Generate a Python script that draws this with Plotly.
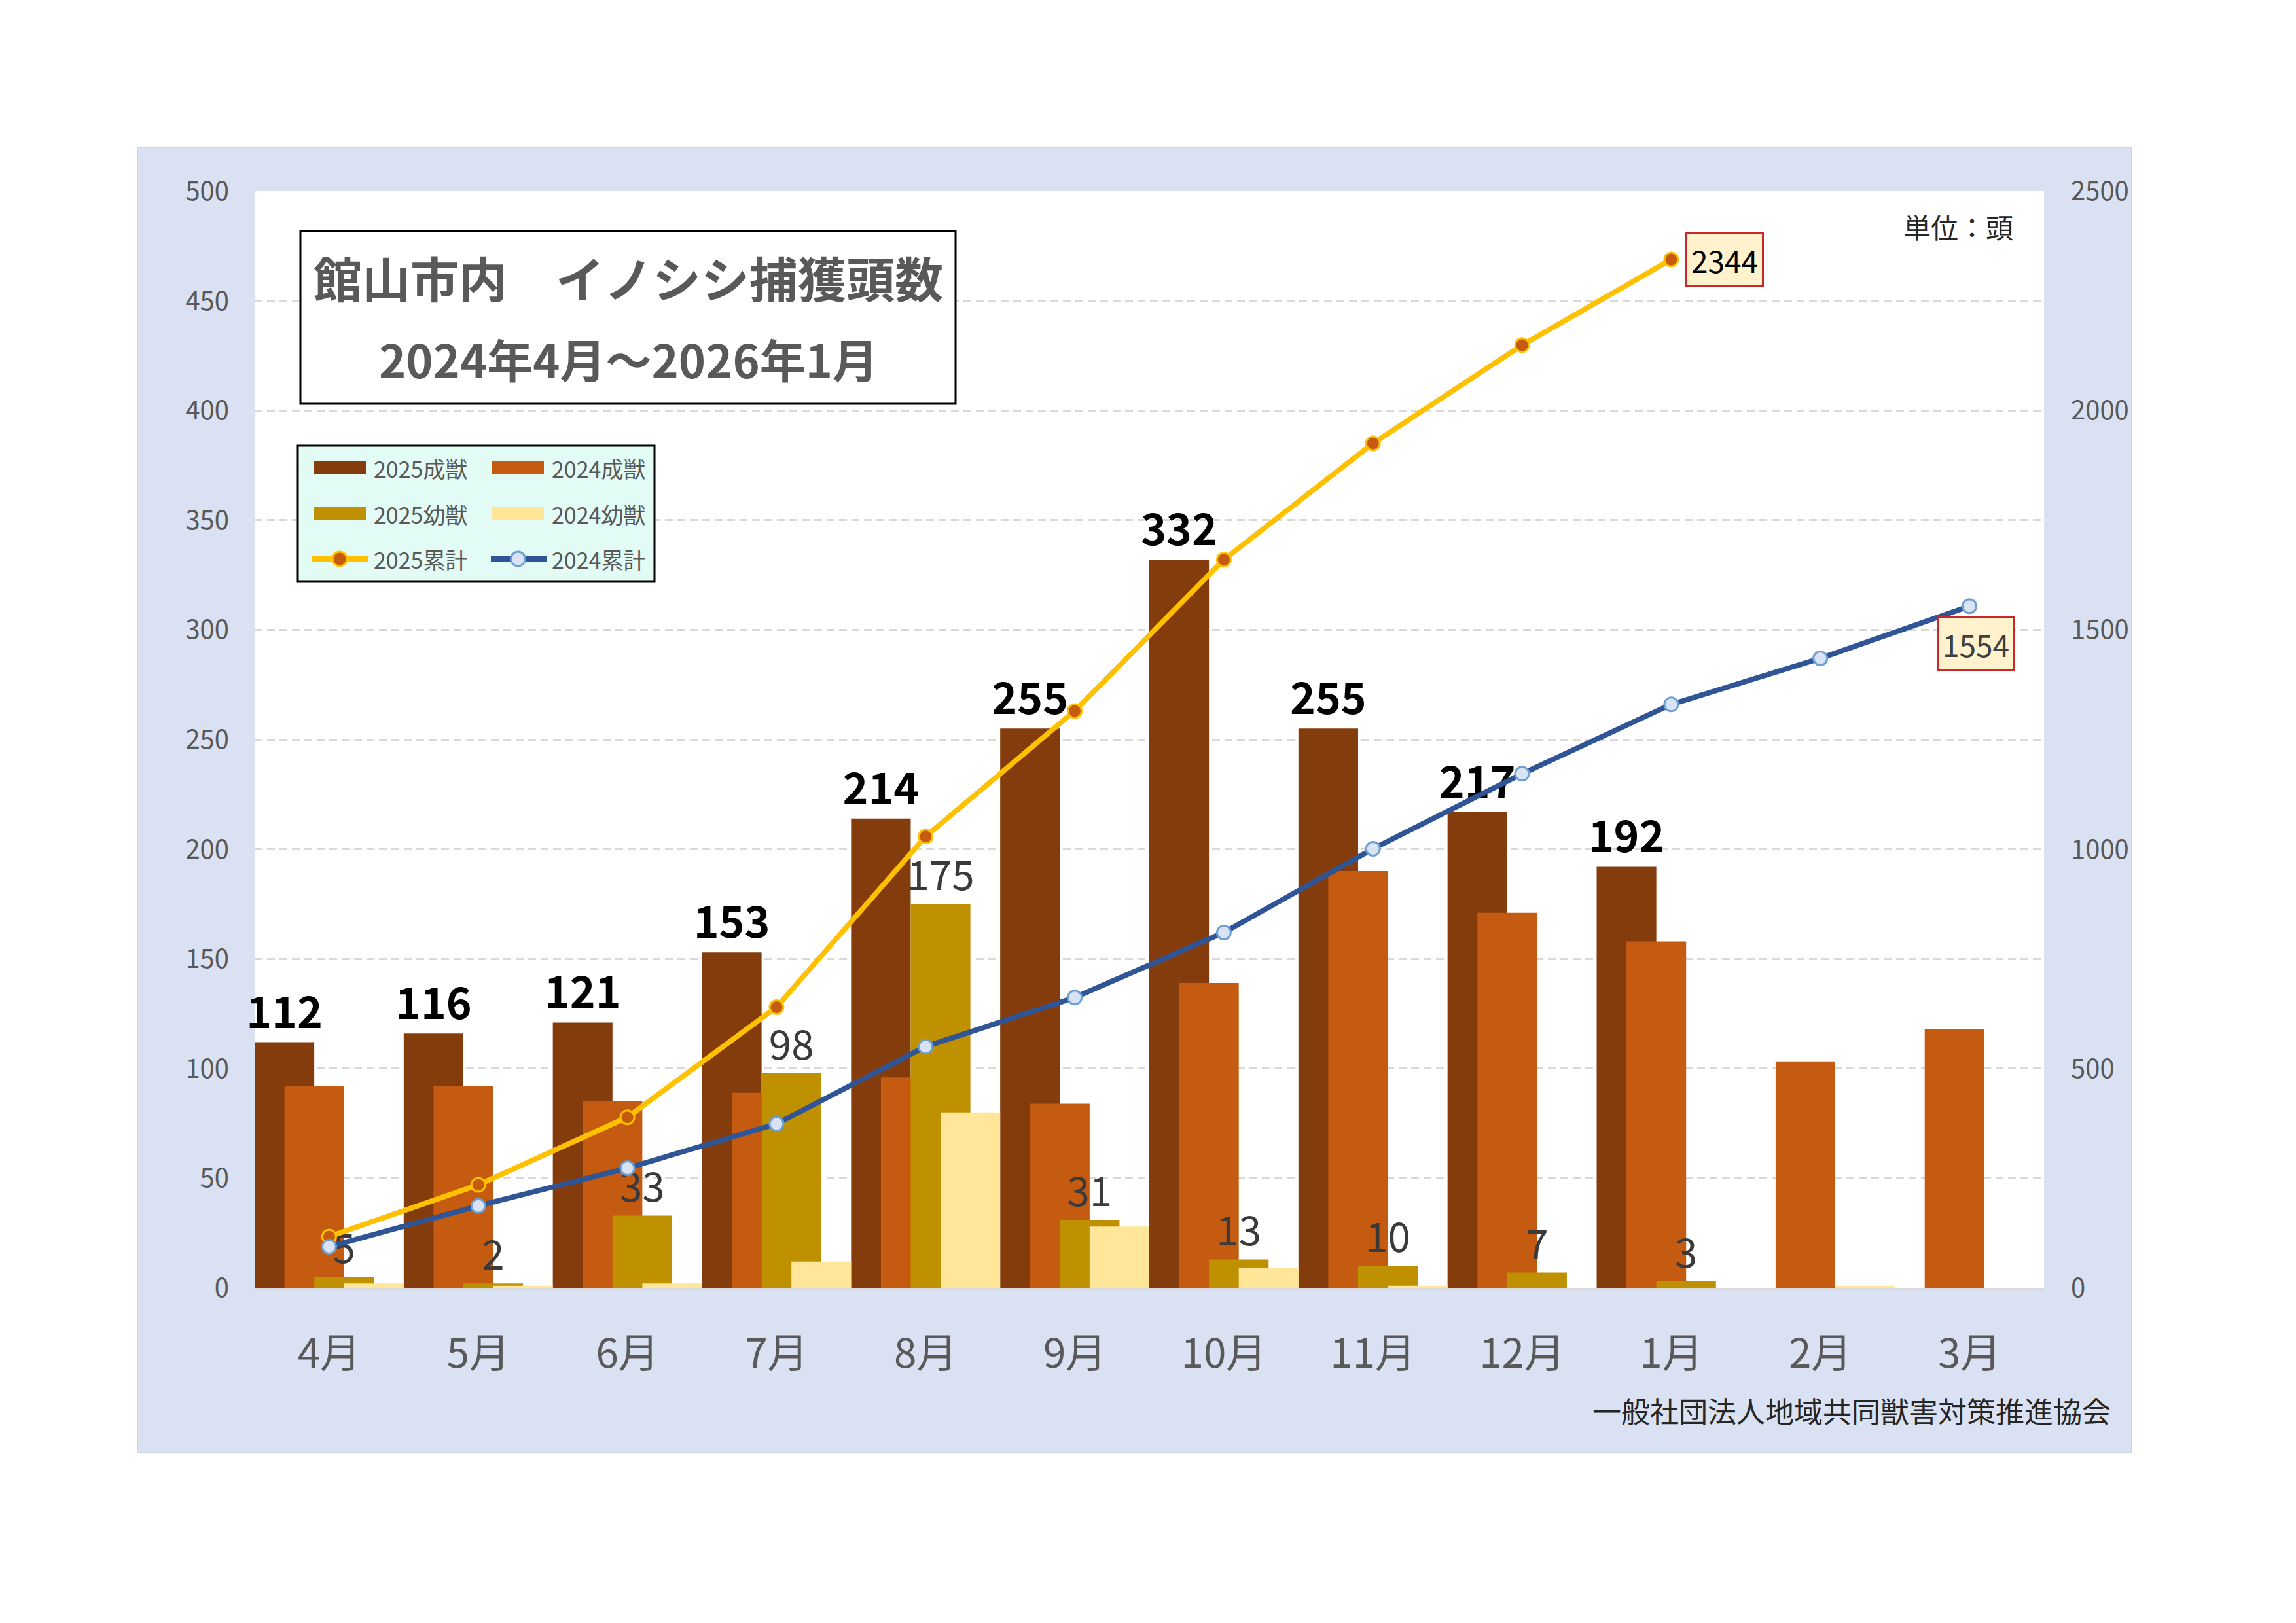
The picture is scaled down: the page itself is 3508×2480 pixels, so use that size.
import plotly.graph_objects as go

# ---------------- data ----------------
months = ["4月", "5月", "6月", "7月", "8月", "9月", "10月", "11月", "12月", "1月", "2月", "3月"]
adult_2025 = [112, 116, 121, 153, 214, 255, 332, 255, 217, 192, None, None]
adult_2024 = [92, 92, 85, 89, 96, 84, 139, 190, 171, 158, 103, 118]
young_2025 = [5, 2, 33, 98, 175, 31, 13, 10, 7, 3, None, None]
young_2024 = [2, 1, 2, 12, 80, 28, 9, 1, 0, 0, 1, 0]
cum_2025 = [117, 235, 389, 640, 1029, 1315, 1660, 1925, 2149, 2344, None, None]
cum_2024 = [94, 187, 273, 374, 550, 662, 810, 1001, 1172, 1330, 1435, 1554]

FONT = "Noto Sans CJK JP"
W, H = 3508, 2480
L, R, T, B = 389, 3123, 292, 1968


def px(x):
    return (x - L) / (R - L)


def py(y):
    return (B - y) / (B - T)


C_A25 = "#843C0C"
C_A24 = "#C55A11"
C_Y25 = "#BF9000"
C_Y24 = "#FFE699"
C_L25 = "#FFC000"
C_L24 = "#2F5597"

fig = go.Figure()

fig.add_trace(go.Bar(
    x=months, y=adult_2025, name="2025成獣", marker=dict(color=C_A25, line=dict(width=0)),
    offset=-0.5, width=0.4,
    text=[("" if v is None else str(v)) for v in adult_2025], textposition="outside",
    textfont=dict(family=FONT, size=66, color="#000000", weight="bold"),
    constraintext="none", cliponaxis=False,
))
fig.add_trace(go.Bar(
    x=months, y=adult_2024, name="2024成獣", marker=dict(color=C_A24, line=dict(width=0)),
    offset=-0.3, width=0.4,
))
fig.add_trace(go.Bar(
    x=months, y=young_2025, name="2025幼獣", marker=dict(color=C_Y25, line=dict(width=0)),
    offset=-0.1, width=0.4,
    text=[("" if v is None else str(v)) for v in young_2025], textposition="outside",
    textfont=dict(family=FONT, size=62, color="#3A3A3A"),
    constraintext="none", cliponaxis=False,
))
fig.add_trace(go.Bar(
    x=months, y=young_2024, name="2024幼獣", marker=dict(color=C_Y24, line=dict(width=0)),
    offset=0.1, width=0.4,
))
fig.add_trace(go.Scatter(
    x=months, y=cum_2025, name="2025累計", yaxis="y2", mode="lines+markers",
    line=dict(color=C_L25, width=8),
    marker=dict(size=21, color=C_A24, line=dict(color=C_L25, width=3)),
    cliponaxis=False,
))
fig.add_trace(go.Scatter(
    x=months, y=cum_2024, name="2024累計", yaxis="y2", mode="lines+markers",
    line=dict(color=C_L24, width=8),
    marker=dict(size=21, color="#DAE3F3", line=dict(color="#6E9FD3", width=3)),
    cliponaxis=False,
))

shapes = []
# outer light-blue panel
shapes.append(dict(type="rect", xref="paper", yref="paper", layer="below",
                   x0=px(210), x1=px(3257), y0=py(2219), y1=py(225),
                   fillcolor="#DAE1F2", line=dict(color="#D0D4DC", width=2)))
# white plot area
shapes.append(dict(type="rect", xref="paper", yref="paper", layer="below",
                   x0=0, x1=1, y0=0, y1=1, fillcolor="#FFFFFF", line=dict(width=0)))
# title box
shapes.append(dict(type="rect", xref="paper", yref="paper", layer="above",
                   x0=px(459), x1=px(1460), y0=py(617), y1=py(353),
                   fillcolor="#FFFFFF", line=dict(color="#000000", width=3)))
# legend box
shapes.append(dict(type="rect", xref="paper", yref="paper", layer="above",
                   x0=px(455), x1=px(1000), y0=py(889), y1=py(681),
                   fillcolor="#E2FBF5", line=dict(color="#000000", width=3)))

annotations = []
leg_rows = [715, 785, 854]
leg_cols = [(479, 559, 569), (752, 831, 841)]
leg_items = [
    ("2025成獣", "bar", C_A25, None), ("2024成獣", "bar", C_A24, None),
    ("2025幼獣", "bar", C_Y25, None), ("2024幼獣", "bar", C_Y24, None),
    ("2025累計", "line", C_L25, (C_A24, C_L25)), ("2024累計", "line", C_L24, ("#DAE3F3", "#6E9FD3")),
]
for i, (lab, kind, col, mk) in enumerate(leg_items):
    r, c = divmod(i, 2)
    yc = leg_rows[r]
    x0, x1, xt = leg_cols[c]
    if kind == "bar":
        shapes.append(dict(type="rect", xref="paper", yref="paper", layer="above",
                           x0=px(x0), x1=px(x1), y0=py(yc + 10), y1=py(yc - 10),
                           fillcolor=col, line=dict(width=0)))
    else:
        shapes.append(dict(type="line", xref="paper", yref="paper", layer="above",
                           x0=px(x0 - 2), x1=px(x1 + 4), y0=py(yc), y1=py(yc),
                           line=dict(color=col, width=8)))
        cx = (x0 + x1) / 2
        shapes.append(dict(type="circle", xref="paper", yref="paper", layer="above",
                           x0=px(cx - 11), x1=px(cx + 11), y0=py(yc + 11), y1=py(yc - 11),
                           fillcolor=mk[0], line=dict(color=mk[1], width=3)))
    annotations.append(dict(xref="paper", yref="paper", x=px(xt), y=py(yc),
                            xanchor="left", yanchor="middle", showarrow=False,
                            text=lab, font=dict(family=FONT, size=34, color="#595959")))

# title
annotations.append(dict(xref="paper", yref="paper", x=px(960), y=py(422),
                        xanchor="center", yanchor="middle", showarrow=False,
                        text="館山市内　イノシシ捕獲頭数",
                        font=dict(family=FONT, size=74, color="#595959", weight="bold")))
annotations.append(dict(xref="paper", yref="paper", x=px(960), y=py(547),
                        xanchor="center", yanchor="middle", showarrow=False,
                        text="2024年4月～2026年1月",
                        font=dict(family=FONT, size=70, color="#595959", weight="bold")))
# unit
annotations.append(dict(xref="paper", yref="paper", x=px(3078), y=py(346),
                        xanchor="right", yanchor="middle", showarrow=False,
                        text="単位：頭", font=dict(family=FONT, size=42, color="#262626")))
# footer
annotations.append(dict(xref="paper", yref="paper", x=px(3227), y=py(2155),
                        xanchor="right", yanchor="middle", showarrow=False,
                        text="一般社団法人地域共同獣害対策推進協会",
                        font=dict(family=FONT, size=44, color="#262626")))
# end-value labels
last25 = max(i for i, v in enumerate(cum_2025) if v is not None)
annotations.append(dict(xref="x", yref="y2", x=months[last25], y=cum_2025[last25],
                        xanchor="left", yanchor="middle", xshift=22, showarrow=False,
                        text=str(cum_2025[last25]), bgcolor="#FFF2CC",
                        bordercolor="#C8282B", borderwidth=3, borderpad=6,
                        font=dict(family=FONT, size=46, color="#000000")))
last24 = len(cum_2024) - 1
annotations.append(dict(xref="x", yref="y2", x=months[last24], y=cum_2024[last24],
                        xanchor="center", yanchor="top", xshift=10, yshift=-16, showarrow=False,
                        text=str(cum_2024[last24]), bgcolor="#FFF2CC",
                        bordercolor="#C8282B", borderwidth=3, borderpad=6,
                        font=dict(family=FONT, size=46, color="#404040")))

fig.update_layout(
    width=W, height=H,
    margin=dict(l=L, r=W - R, t=T, b=H - B, autoexpand=False),
    paper_bgcolor="#FFFFFF", plot_bgcolor="rgba(0,0,0,0)",
    barmode="overlay", showlegend=False,
    font=dict(family=FONT, color="#595959"),
    xaxis=dict(type="category", categoryorder="array", categoryarray=months,
               showgrid=False, showline=True, linecolor="#D9D9D9", linewidth=3,
               ticks="", tickfont=dict(family=FONT, size=62, color="#595959"),
               ticklabelstandoff=45, automargin=False, range=[-0.5, 11.5]),
    yaxis=dict(range=[0, 500], dtick=50, showgrid=True, gridcolor="#D9D9D9",
               gridwidth=3, griddash="12px,7px", zeroline=False, showline=False,
               ticks="", tickfont=dict(family=FONT, size=40, color="#595959"),
               ticklabelstandoff=38, automargin=False),
    yaxis2=dict(range=[0, 2500], dtick=500, overlaying="y", side="right",
                showgrid=False, zeroline=False, showline=False, ticks="",
                tickfont=dict(family=FONT, size=40, color="#595959"),
                ticklabelstandoff=40, automargin=False),
    shapes=shapes, annotations=annotations,
)

fig.write_html("out.html")
